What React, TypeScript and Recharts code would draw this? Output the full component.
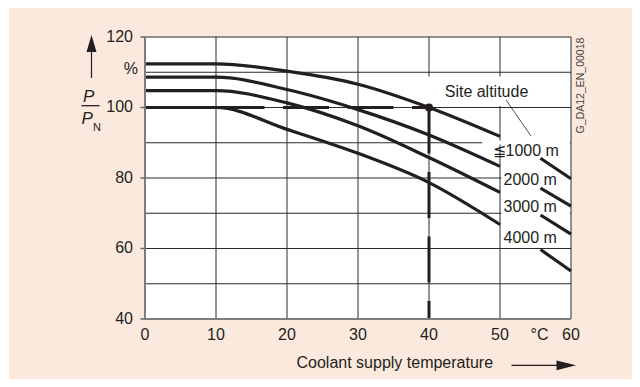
// Derating curve: output power vs coolant supply temperature
// per site altitude

import React from 'react'
import {
  LineChart,
  Line,
  XAxis,
  YAxis,
  CartesianGrid,
  ReferenceLine,
  ReferenceDot,
  ReferenceArea,
} from 'recharts'

const temps = [0, 10, 20, 30, 40, 50, 53, 55.7, 60]
const alt1000 = [112.4, 112.4, 110.3, 106.6, 100, 91.8, null, 85.6, 79.8]
const alt2000 = [108.6, 108.6, 105.1, 99.4, 92.2, 83.3, null, 77.1, 72.0]
const alt3000 = [104.8, 104.8, 101.3, 94.8, 85.8, 75.9, null, 69.5, 64.1]
const alt4000 = [100, 100, 93.8, 87.0, 78.7, 66.8, null, 59.7, 53.6]

const xTicks = [0, 10, 20, 30, 40, 50, 60]
const yTicks = [40, 50, 60, 70, 80, 90, 100, 110, 120]
const yLabels: Record<number, string> = { 40: '40', 60: '60', 80: '80', 100: '100', 110: '%', 120: '120' }
const altitudeLabels = ['≦1000 m', '2000 m', '3000 m', '4000 m']

const data = temps.map((t, i) => ({
  t,
  a1000: alt1000[i],
  a2000: alt2000[i],
  a3000: alt3000[i],
  a4000: alt4000[i],
}))

const INK = '#231f20'
const FONT = '"Liberation Sans", Arial, Helvetica, sans-serif'
const PEACH = '#fce9de'

const YTick = ({ x, y, payload }: any) => {
  const label = yLabels[payload.value]
  if (!label) return null
  if (label === '%') {
    return (
      <text x={x - 7} y={y + 1.5} textAnchor="end" fontSize={16} fill={INK} fontFamily={FONT}>
        %
      </text>
    )
  }
  return (
    <g>
      <line x1={x - 4.5} x2={x} y1={y} y2={y} stroke="#666" strokeWidth={1.5} />
      <text x={x - 12} y={y + 4.8} textAnchor="end" fontSize={16} fill={INK} fontFamily={FONT}>
        {label}
      </text>
    </g>
  )
}

const XTick = ({ x, y, payload }: any) => (
  <text x={x} y={y + 21} textAnchor="middle" fontSize={16} fill={INK} fontFamily={FONT}>
    {payload.value}
  </text>
)

const textShape = (text: string, anchor: 'start' | 'middle' = 'start') => (p: any) => (
  <text x={p.cx} y={p.cy} dy={5.5} textAnchor={anchor} fontSize={16} fill={INK} fontFamily={FONT}>
    {text}
  </text>
)

export default function App() {
  return (
    <div style={{ position: 'relative', width: 640, height: 387, margin: -8, fontFamily: FONT }}>
      <div style={{ position: 'absolute', left: 9, top: 7, width: 631, height: 380, background: PEACH }} />
      <div style={{ position: 'absolute', left: 0, top: 0 }}>
        <LineChart
          width={640}
          height={387}
          data={data}
          margin={{ top: 37, right: 69, bottom: 38, left: 0 }}
        >
          <CartesianGrid stroke="#2b2b2b" strokeWidth={1} fill="#ffffff" />
          <ReferenceArea x1={38.2} x2={59.85} y1={100.4} y2={108.8} fill="#ffffff" fillOpacity={1} stroke="none" />
          <ReferenceArea x1={50.2} x2={59.85} y1={61.5} y2={89.6} fill="#ffffff" fillOpacity={1} stroke="none" />
          <ReferenceArea x1={47.5} x2={59.85} y1={89.5} y2={90.6} fill="#ffffff" fillOpacity={1} stroke="none" />
          <XAxis
            dataKey="t"
            type="number"
            domain={[0, 60]}
            ticks={xTicks}
            height={30}
            tickSize={0}
            tickMargin={0}
            tickLine={false}
            axisLine={{ stroke: '#7d7d7d', strokeWidth: 2 }}
            tick={<XTick />}
            interval={0}
          />
          <YAxis
            type="number"
            domain={[40, 120]}
            ticks={yTicks}
            width={145}
            tickSize={0}
            tickMargin={0}
            tickLine={false}
            axisLine={{ stroke: '#7d7d7d', strokeWidth: 2 }}
            tick={<YTick />}
            interval={0}
          />
          <ReferenceLine
            segment={[{ x: 10, y: 100 }, { x: 40, y: 100 }]}
            stroke={INK}
            strokeWidth={3}
            strokeDasharray="46 18.5"
            strokeDashoffset={-2.5}
          />
          <ReferenceLine
            segment={[{ x: 40, y: 100 }, { x: 40, y: 40 }]}
            stroke={INK}
            strokeWidth={3}
            strokeDasharray="46 18.5"
          />
          <ReferenceLine
            segment={[{ x: 50.87, y: 102.1 }, { x: 54.36, y: 91.9 }]}
            stroke={INK}
            strokeWidth={0.8}
          />
          <Line type="monotone" dataKey="a1000" stroke={INK} strokeWidth={3.2} dot={false} isAnimationActive={false} />
          <Line type="monotone" dataKey="a2000" stroke={INK} strokeWidth={3.2} dot={false} isAnimationActive={false} />
          <Line type="monotone" dataKey="a3000" stroke={INK} strokeWidth={3.2} dot={false} isAnimationActive={false} />
          <Line type="monotone" dataKey="a4000" stroke={INK} strokeWidth={3.2} dot={false} isAnimationActive={false} />
          <ReferenceDot x={40} y={100} r={4} fill={INK} stroke="none" />
          <ReferenceDot x={48.1} y={104.6} r={0} shape={textShape('Site altitude', 'middle')} />
          <ReferenceDot x={48.95} y={87.9} r={0} shape={textShape(altitudeLabels[0])} />
          <ReferenceDot x={50.5} y={79.7} r={0} shape={textShape(altitudeLabels[1])} />
          <ReferenceDot x={50.5} y={72.0} r={0} shape={textShape(altitudeLabels[2])} />
          <ReferenceDot x={50.5} y={63.2} r={0} shape={textShape(altitudeLabels[3])} />
        </LineChart>
      </div>
      <svg
        width={640}
        height={387}
        style={{ position: 'absolute', left: 0, top: 0, pointerEvents: 'none' }}
        fontFamily={FONT}
      >
        {/* y axis title */}
        <line x1={91.5} x2={91.5} y1={50} y2={78} stroke={INK} strokeWidth={1.2} />
        <polygon points="91.5,35 86.5,52 96.5,52" fill={INK} />
        <text x={83} y={102} fontSize={17} fontStyle="italic" fill={INK}>P</text>
        <line x1={81.5} x2={99.5} y1={105.7} y2={105.7} stroke={INK} strokeWidth={1.3} />
        <text x={81.5} y={123.5} fontSize={17} fontStyle="italic" fill={INK}>P</text>
        <text x={93} y={131} fontSize={11} fill={INK}>N</text>
        {/* x axis title */}
        <text x={539.5} y={340} fontSize={16} textAnchor="middle" fill={INK}>°C</text>
        <text x={296.5} y={368} fontSize={16} fill={INK}>Coolant supply temperature</text>
        <line x1={511.5} x2={560} y1={365.3} y2={365.3} stroke={INK} strokeWidth={1.2} />
        <polygon points="556.5,360.5 576,365.3 556.5,370.3" fill={INK} />
        {/* figure id */}
        <text
          x={0}
          y={0}
          fontSize={10.5}
          fill="#444"
          textAnchor="middle"
          transform="translate(583.5 85.5) rotate(-90)"
        >
          G_DA12_EN_00018
        </text>
      </svg>
    </div>
  )
}
